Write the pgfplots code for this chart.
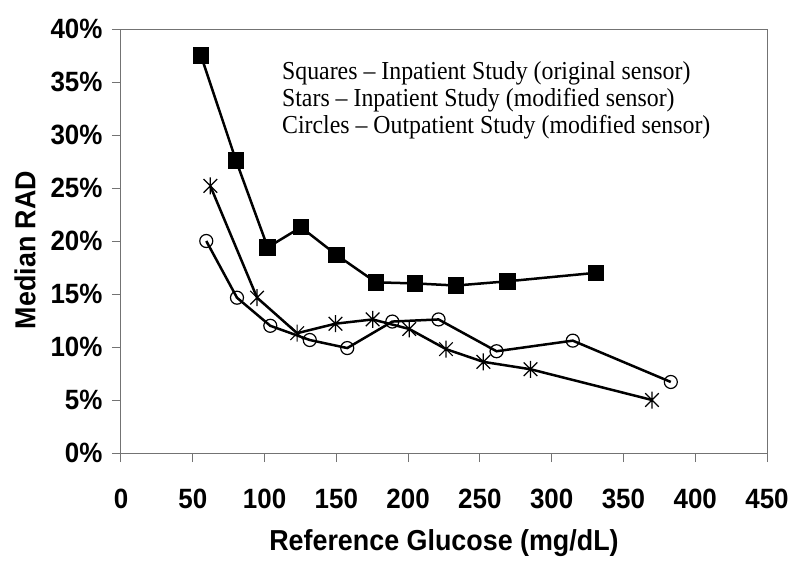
\documentclass[border=0pt]{standalone}
\usepackage{fontspec}
\setmainfont{Liberation Serif}[FakeStretch=0.92]
\setsansfont{Liberation Sans}[FakeStretch=0.93]
\usepackage{pgfplots}
\pgfplotsset{compat=1.18}
\definecolor{axgray}{gray}{0.45}
\pgfdeclareplotmark{xstar}{%
  \pgfpathmoveto{\pgfqpoint{0pt}{\pgfplotmarksize}}%
  \pgfpathlineto{\pgfqpoint{0pt}{-\pgfplotmarksize}}%
  \pgfpathmoveto{\pgfqpoint{-0.8\pgfplotmarksize}{0.8\pgfplotmarksize}}%
  \pgfpathlineto{\pgfqpoint{0.8\pgfplotmarksize}{-0.8\pgfplotmarksize}}%
  \pgfpathmoveto{\pgfqpoint{-0.8\pgfplotmarksize}{-0.8\pgfplotmarksize}}%
  \pgfpathlineto{\pgfqpoint{0.8\pgfplotmarksize}{0.8\pgfplotmarksize}}%
  \pgfusepathqstroke}
\begin{document}
\begin{tikzpicture}
\path[use as bounding box] (-121bp,-121bp) rectangle (679bp,453bp);
\begin{axis}[
  at={(0,0)}, anchor=south west,
  scale only axis, width=646bp, height=424bp,
  xmin=0, xmax=450, ymin=0, ymax=40,
  xtick={0,50,...,450}, ytick={0,5,...,40},
  xtick pos=left, ytick pos=left,
  axis line style={axgray, line width=1bp},
  every tick/.style={axgray, line width=1bp},
  tick align=outside, major tick length=9bp,
  /pgf/number format/assume math mode=true,
  ticklabel style={font=\sffamily\bfseries\fontsize{28}{28}\selectfont},
  yticklabel={\pgfmathprintnumber{\tick}\%},
  xticklabel style={anchor=center, yshift=-37bp},
  yticklabel style={anchor=east, xshift=-6bp},
  xlabel={Reference Glucose (mg/dL)},
  ylabel={Median RAD},
  label style={font=\sffamily\bfseries\fontsize{29}{29}\selectfont},
  xlabel style={at={(axis description cs:0.5,0)}, anchor=center, yshift=-90bp},
  ylabel style={at={(axis description cs:-0.1486,0.479)}, anchor=center},
  clip=false,
]
\addplot[black, line width=2.5bp, mark=square*, mark size=7bp] coordinates {
 (55.7,37.5) (80.1,27.6) (102.2,19.4) (125.4,21.3) (150,18.7)
 (177.6,16.1) (204.8,16.0) (233.4,15.8) (269.4,16.2) (330.9,17.0)};
\addplot[black, line width=2.5bp, mark=xstar, mark size=8.5bp, mark options={line width=1.2bp}] coordinates {
 (62.2,25.2) (94.8,14.65) (122.7,11.3) (149.4,12.2) (175.3,12.6)
 (200.8,11.7) (226.4,9.8) (252.4,8.6) (285.3,7.9) (369.9,5.0)};
\addplot[black, line width=2.5bp, mark=o, mark size=6.5bp, mark options={line width=1.2bp}] coordinates {
 (59.4,20.0) (80.8,14.65) (104,12.0) (131.5,10.66) (157.6,9.9)
 (189,12.4) (221.2,12.6) (261.6,9.6) (314.7,10.6) (383,6.7)};
\begin{scope}[every node/.style={anchor=base west, inner sep=0pt, font=\fontsize{26}{27}\selectfont}]
\node at (axis cs:112.1,35.19) {Squares -- Inpatient Study (original sensor)};
\node at (axis cs:112.1,32.67) {Stars -- Inpatient Study (modified sensor)};
\node at (axis cs:112.1,30.15) {Circles -- Outpatient Study (modified sensor)};
\end{scope}
\end{axis}
\end{tikzpicture}
\end{document}
